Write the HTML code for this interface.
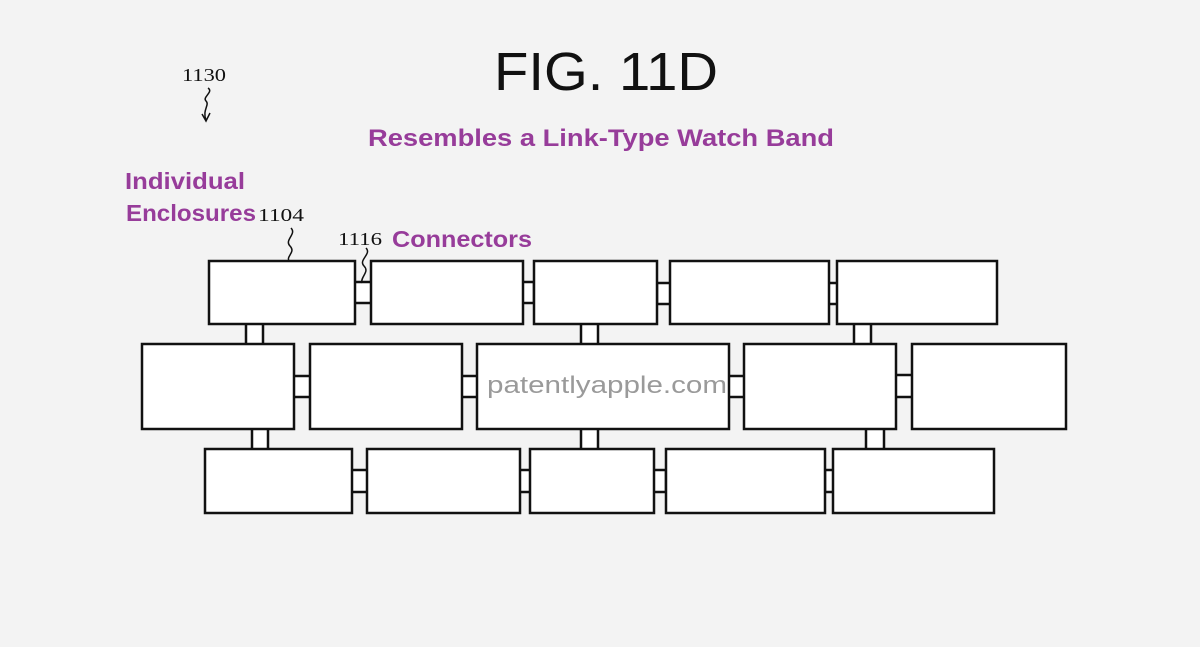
<!DOCTYPE html>
<html><head><meta charset="utf-8"><style>
html,body{margin:0;padding:0;background:#f3f3f3;}
svg{display:block;}
</style></head><body>
<svg width="1200" height="647" viewBox="0 0 1200 647" xmlns="http://www.w3.org/2000/svg">
<rect width="1200" height="647" fill="#f3f3f3"/>
<g fill="#fff" stroke="#111" stroke-width="2.5">
<!-- connectors first -->
<rect x="354" y="282" width="18" height="21"/>
<rect x="517" y="282" width="17" height="21"/>
<rect x="657" y="283" width="17" height="21"/>
<rect x="825" y="283" width="16" height="21"/>
<rect x="246" y="323" width="17" height="22"/>
<rect x="581" y="323" width="17" height="22"/>
<rect x="854" y="323" width="17" height="22"/>
<rect x="293" y="376" width="18" height="21"/>
<rect x="461" y="376" width="17" height="21"/>
<rect x="728" y="376" width="17" height="21"/>
<rect x="895" y="375" width="18" height="22"/>
<rect x="252" y="428" width="16" height="22"/>
<rect x="581" y="428" width="17" height="22"/>
<rect x="866" y="428" width="18" height="22"/>
<rect x="351" y="470" width="17" height="22"/>
<rect x="519" y="470" width="16" height="22"/>
<rect x="649" y="470" width="17" height="22"/>
<rect x="825" y="470" width="16" height="22"/>
<!-- row 1 -->
<rect x="209" y="261" width="146" height="63"/>
<rect x="371" y="261" width="152" height="63"/>
<rect x="534" y="261" width="123" height="63"/>
<rect x="670" y="261" width="159" height="63"/>
<rect x="837" y="261" width="160" height="63"/>
<!-- row 2 -->
<rect x="142" y="344" width="152" height="85"/>
<rect x="310" y="344" width="152" height="85"/>
<rect x="477" y="344" width="252" height="85"/>
<rect x="744" y="344" width="152" height="85"/>
<rect x="912" y="344" width="154" height="85"/>
<!-- row 3 -->
<rect x="205" y="449" width="147" height="64"/>
<rect x="367" y="449" width="153" height="64"/>
<rect x="530" y="449" width="124" height="64"/>
<rect x="666" y="449" width="159" height="64"/>
<rect x="833" y="449" width="161" height="64"/>
</g>
<text x="487" y="393" font-family="Liberation Sans, sans-serif" font-size="24" fill="#9a9a9a" textLength="240" lengthAdjust="spacingAndGlyphs">patentlyapple.com</text>
<text x="494" y="90" font-family="Liberation Sans, sans-serif" font-size="54" fill="#111" textLength="224" lengthAdjust="spacingAndGlyphs">FIG. 11D</text>
<text x="368" y="146" font-family="Liberation Sans, sans-serif" font-weight="bold" font-size="24" fill="#973c9a" textLength="466" lengthAdjust="spacingAndGlyphs">Resembles a Link-Type Watch Band</text>
<text x="125" y="189" font-family="Liberation Sans, sans-serif" font-weight="bold" font-size="23" fill="#973c9a" textLength="120" lengthAdjust="spacingAndGlyphs">Individual</text>
<text x="126" y="221" font-family="Liberation Sans, sans-serif" font-weight="bold" font-size="23" fill="#973c9a" textLength="130" lengthAdjust="spacingAndGlyphs">Enclosures</text>
<text x="392" y="247" font-family="Liberation Sans, sans-serif" font-weight="bold" font-size="23" fill="#973c9a" textLength="140" lengthAdjust="spacingAndGlyphs">Connectors</text>
<g font-family="Liberation Serif, serif" font-size="18" fill="#111">
<text x="182" y="81" textLength="44" lengthAdjust="spacingAndGlyphs">1130</text>
<text x="258" y="221" textLength="46" lengthAdjust="spacingAndGlyphs">1104</text>
<text x="338" y="245" textLength="44" lengthAdjust="spacingAndGlyphs">1116</text>
</g>
<g fill="none" stroke="#111" stroke-width="1.5">
<path d="M208 88 C214 92 202 97 206 101 C210 105 202 110 206 120"/>
<path d="M202 114 L206 121 L210 113"/>
<path d="M291 228 C297 234 284 240 290 246 C296 252 286 256 289 261"/>
<path d="M366 248 C372 254 358 260 364 266 C370 272 360 277 362 283"/>
</g>
</svg>
</body></html>
